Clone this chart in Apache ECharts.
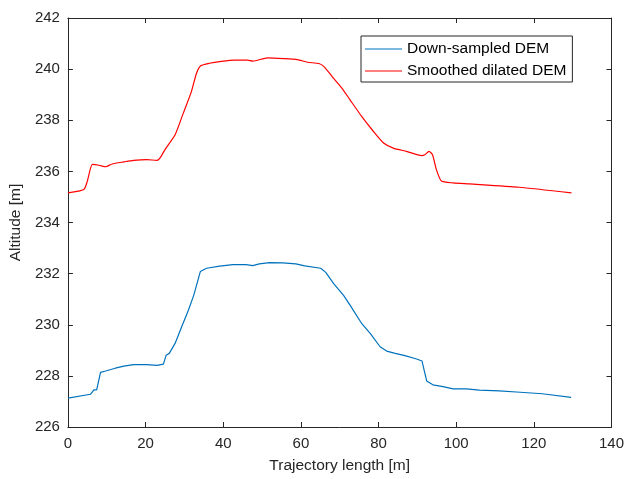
<!DOCTYPE html>
<html>
<head>
<meta charset="utf-8">
<script src="https://cdn.jsdelivr.net/npm/echarts@6/dist/echarts.min.js"></script>
<style>html,body{margin:0;padding:0;background:#fff;}#c{width:627px;height:479px;}</style>
</head>
<body>
<div id="c"></div>
<script>
var seriesNames = ['Down-sampled DEM', 'Smoothed dilated DEM'];
var xTicks = [0, 20, 40, 60, 80, 100, 120, 140];
var yTicks = [226, 228, 230, 232, 234, 236, 238, 240, 242];

var downX = [0, 5.8, 6.7, 7.4, 8.4, 9.7, 12.2, 14.4, 16.9, 20.3, 22.9, 24.6, 25.3, 26.1, 27.6, 29.3, 31.0, 32.4, 34.1, 35.7, 39.1, 42.5, 45.9, 47.6, 49.3, 51.9, 55.3, 58.7, 61.0, 65.1, 66.4, 68.5, 71.0, 72.7, 75.7, 77.9, 80.4, 82.1, 84.3, 86.8, 89.8, 91.2, 92.4, 94.0, 96.6, 99.2, 102.6, 106.0, 111.1, 116.5, 122.2, 129.6];
var downY = [227.13, 227.28, 227.45, 227.45, 228.14, 228.19, 228.30, 228.38, 228.44, 228.44, 228.41, 228.46, 228.81, 228.88, 229.27, 229.92, 230.56, 231.15, 232.08, 232.21, 232.29, 232.35, 232.35, 232.31, 232.38, 232.43, 232.42, 232.38, 232.30, 232.21, 232.05, 231.60, 231.15, 230.76, 230.04, 229.65, 229.14, 228.97, 228.88, 228.79, 228.66, 228.58, 227.80, 227.65, 227.58, 227.49, 227.49, 227.44, 227.41, 227.36, 227.30, 227.16];

var smoothX = [0, 4.1, 5.0, 6.3, 8.0, 9.7, 11.4, 14.4, 16.9, 20.3, 22.9, 23.7, 25.0, 27.6, 29.7, 31.8, 33.1, 34.2, 36.5, 39.5, 42.9, 46.3, 47.6, 51.4, 55.7, 59.1, 61.7, 64.6, 65.9, 68.1, 70.6, 72.7, 75.7, 78.7, 81.3, 83.8, 87.2, 91.1, 91.9, 93.0, 93.9, 94.9, 96.2, 99.2, 103.4, 116.2, 129.7];
var smoothY = [235.16, 235.29, 235.62, 236.27, 236.24, 236.18, 236.29, 236.37, 236.43, 236.46, 236.43, 236.52, 236.85, 237.43, 238.27, 239.12, 239.83, 240.13, 240.23, 240.30, 240.35, 240.35, 240.31, 240.44, 240.41, 240.37, 240.27, 240.22, 240.11, 239.70, 239.25, 238.79, 238.14, 237.56, 237.11, 236.91, 236.78, 236.62, 236.65, 236.78, 236.65, 236.07, 235.62, 235.55, 235.51, 235.38, 235.16];

function pairs(xs, ys) { return xs.map(function (x, i) { return [x, ys[i]]; }); }

var FONT = 'Liberation Sans, Arial, sans-serif';
var AX = '#262626';
var tickCommon = { show: true, inside: true, length: 5, lineStyle: { color: AX, width: 1 } };
var lineIcon = 'path://M0,0L0.01,0L0.01,0.01ZM0,6.4L37,6.4L37,7.6L0,7.6ZM36.99,14L37,14L37,13.99Z';

var chart = echarts.init(document.getElementById('c'), null, { renderer: 'canvas' });
chart.setOption({
  animation: false,
  backgroundColor: '#ffffff',
  grid: { left: 65, top: 18, width: 548, height: 411, containLabel: false },
  legend: {
    data: [{ name: seriesNames[0], icon: lineIcon }, { name: seriesNames[1], icon: lineIcon }],
    orient: 'vertical',
    left: 361, top: 36,
    padding: [5, 6, 3, 4],
    itemWidth: 37, itemHeight: 14, itemGap: 6,
    borderColor: AX, borderWidth: 1,
    backgroundColor: '#ffffff',
    textStyle: { fontFamily: FONT, fontSize: 15.5, color: '#000000' }
  },
  xAxis: [
    {
      type: 'value', min: 0, max: 140, interval: 20, position: 'bottom',
      name: 'Trajectory length [m]', nameLocation: 'middle', nameGap: 31,
      nameTextStyle: { fontFamily: FONT, fontSize: 15.5, color: AX },
      axisLine: { show: true, onZero: false, lineStyle: { color: AX, width: 1 } },
      axisTick: tickCommon,
      axisLabel: { fontFamily: FONT, fontSize: 15, color: AX, margin: 9,
        formatter: function (v) { return xTicks.indexOf(v) >= 0 ? String(v) : ''; } },
      splitLine: { show: false }
    },
    {
      type: 'value', min: 0, max: 140, interval: 20, position: 'top',
      axisLine: { show: true, onZero: false, lineStyle: { color: AX, width: 1 } },
      axisTick: tickCommon, axisLabel: { show: false }, splitLine: { show: false }
    }
  ],
  yAxis: [
    {
      type: 'value', min: 226, max: 242, interval: 2, position: 'left',
      name: 'Altitude [m]', nameLocation: 'middle', nameGap: 32, nameRotate: 90,
      nameTextStyle: { fontFamily: FONT, fontSize: 15.5, color: AX },
      axisLine: { show: true, onZero: false, lineStyle: { color: AX, width: 1 } },
      axisTick: tickCommon,
      axisLabel: { fontFamily: FONT, fontSize: 15, color: AX, margin: 8,
        formatter: function (v) { return yTicks.indexOf(v) >= 0 ? String(v) : ''; } },
      splitLine: { show: false }
    },
    {
      type: 'value', min: 226, max: 242, interval: 2, position: 'right',
      axisLine: { show: true, onZero: false, lineStyle: { color: AX, width: 1 } },
      axisTick: tickCommon, axisLabel: { show: false }, splitLine: { show: false }
    }
  ],
  series: [
    {
      name: seriesNames[0], type: 'line', xAxisIndex: 0, yAxisIndex: 0,
      data: pairs(downX, downY), symbol: 'none', showSymbol: false,
      lineStyle: { color: '#0072bd', width: 1.2 }, itemStyle: { color: '#0072bd' }
    },
    {
      name: seriesNames[1], type: 'line', xAxisIndex: 0, yAxisIndex: 0,
      data: pairs(smoothX, smoothY), symbol: 'none', showSymbol: false, smooth: 0.2,
      lineStyle: { color: '#ff0000', width: 1.2 }, itemStyle: { color: '#ff0000' }
    }
  ]
});
</script>
</body>
</html>
